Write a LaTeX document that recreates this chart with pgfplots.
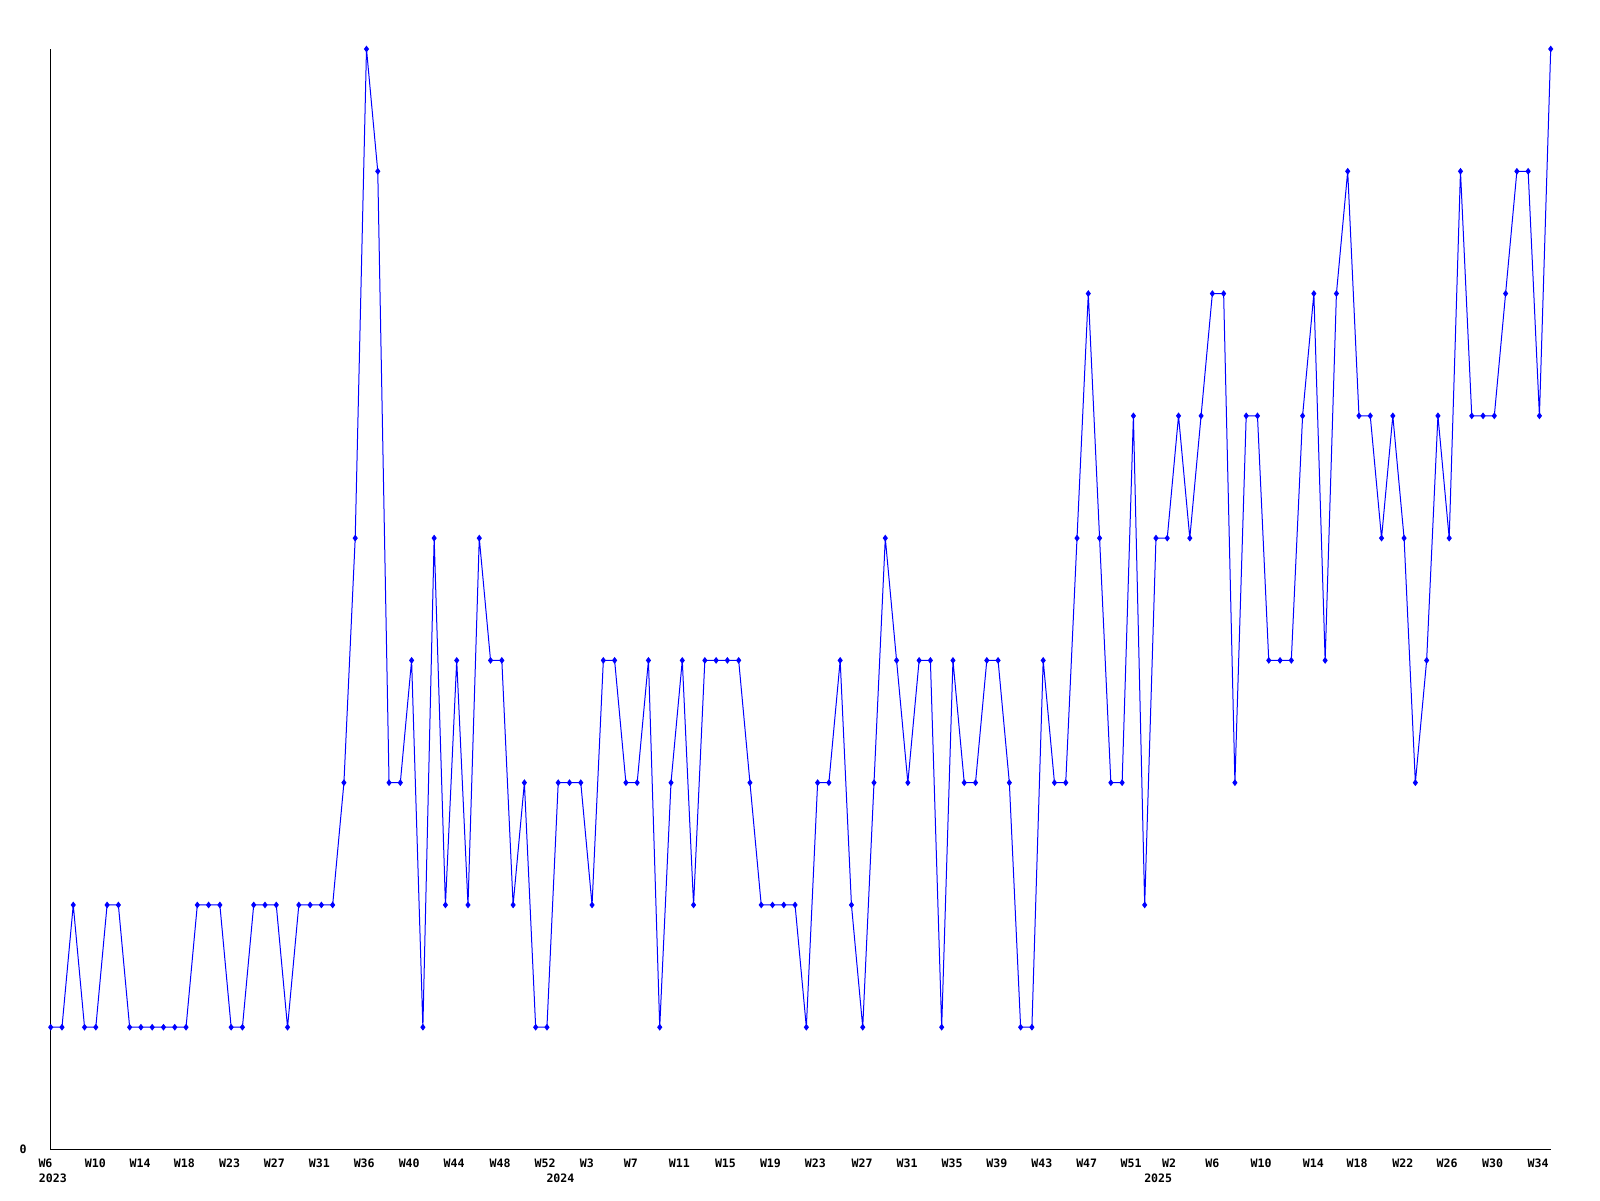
\documentclass[border=0pt]{standalone}
\usepackage{fontspec}
\setmainfont{DejaVu Sans Mono}
\usepackage{pgfplots}
\usepackage{pgfplotstable}
\pgfplotsset{compat=1.18}

% weekly counts, 2023 W6 .. 2025 W35 (one value per week)
\pgfplotstableread{
v
1
1
2
1
1
2
2
1
1
1
1
1
1
2
2
2
1
1
2
2
2
1
2
2
2
2
3
5
9
8
3
3
4
1
5
2
4
2
5
4
4
2
3
1
1
3
3
3
2
4
4
3
3
4
1
3
4
2
4
4
4
4
3
2
2
2
2
1
3
3
4
2
1
3
5
4
3
4
4
1
4
3
3
4
4
3
1
1
4
3
3
5
7
5
3
3
6
2
5
5
6
5
6
7
7
3
6
6
4
4
4
6
7
4
7
8
6
6
5
6
5
3
4
6
5
8
6
6
6
7
8
8
6
9
}\weekly

\begin{document}
\begin{tikzpicture}[x=1pt,y=1pt]
\useasboundingbox (0,0) rectangle (800,600);
\begin{axis}[
  at={(25.35pt,25.25pt)}, anchor=south west,
  scale only axis, width=750pt, height=550.25pt,
  xmin=0, xmax=133, ymin=0, ymax=9,
  axis x line=bottom, axis y line=left,
  axis line style={-, black, line width=0.5pt},
  clip=false,
  major tick length=0pt,
  ticklabel style={font=\fontsize{5.8}{6}\selectfont\bfseries},
  ytick={0}, yticklabels={0},
  yticklabel style={anchor=east, inner sep=0pt, xshift=-11.8pt},
  xtick={0,3.97,7.92,11.86,15.86,19.84,23.83,27.8,31.79,35.77,39.84,43.83,
         47.55,51.45,55.75,59.83,63.82,67.8,71.95,75.94,79.92,83.9,87.88,91.86,95.79,
         99.16,103.01,107.32,111.95,115.84,119.9,123.81,127.85,131.88},
  xticklabels={{\hspace*{-5.2pt}W6},W10,W14,W18,W23,W27,W31,W36,W40,W44,W48,W52,
               W3,W7,W11,W15,W19,W23,W27,W31,W35,W39,W43,W47,W51,
               W2,W6,W10,W14,W18,W22,W26,W30,W34},
  xticklabel style={anchor=north, inner sep=0pt, yshift=-4.5pt},
  extra x ticks={0.2,45.2,98.2},
  extra x tick labels={2023,2024,2025},
  extra x tick style={xticklabel style={yshift=-7.65pt}},
]
\addplot[color={rgb,255:red,0;green,0;blue,255}, line width=0.5pt,
         mark=diamond*, mark size=1.3pt]
  table[x expr=\coordindex, y=v] {\weekly};
\end{axis}
\end{tikzpicture}
\end{document}
